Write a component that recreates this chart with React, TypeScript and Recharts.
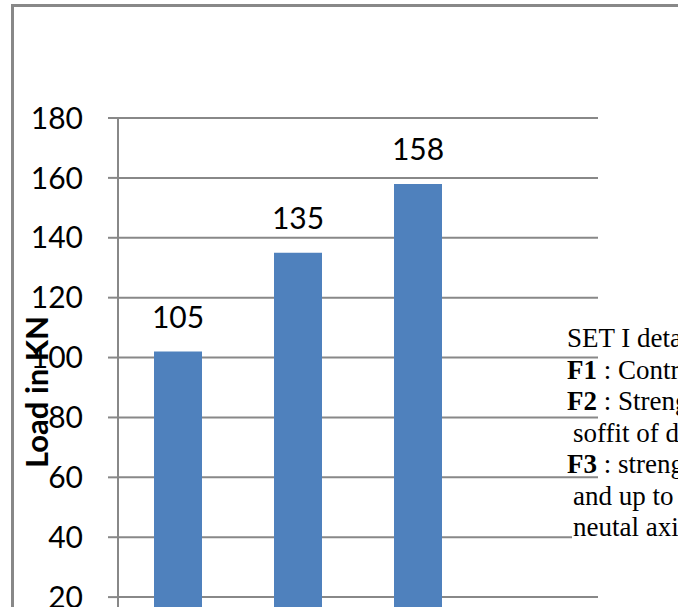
import React from 'react';
import { BarChart, Bar, XAxis, YAxis, CartesianGrid, LabelList } from 'recharts';

const categories = ['F1', 'F2', 'F3', ''];
const loads = [102, 135, 158, null];
const loadLabels = ['105', '135', '158', ''];
const yTicks = [0, 20, 40, 60, 80, 100, 120, 140, 160, 180];

// side note text box (clipped at the right edge like the source)
const noteLines = [
  { bold: '', rest: 'SET I details', indent: 0 },
  { bold: 'F1', rest: ' : Control', indent: 0 },
  { bold: 'F2', rest: ' : Strengthened at', indent: 0 },
  { bold: '', rest: 'soffit of deck', indent: 6 },
  { bold: 'F3', rest: ' : strengthened at', indent: 0 },
  { bold: '', rest: 'and up to  the', indent: 6 },
  { bold: '', rest: 'neutal axis', indent: 6 },
];

const data = categories.map((name, i) => ({ name, load: loads[i], label: loadLabels[i] }));

const GRID = '#888888';
const BAR = '#4F81BD';

const YLabel = () => (
  <text
    x={0}
    y={0}
    transform="translate(48, 392) rotate(-90)"
    textAnchor="middle"
    fontFamily="Lato"
    fontWeight="bold"
    fontSize={31}
    fill="#000"
  >
    Load in KN
  </text>
);

const App: React.FC = () => {
  return (
    <div
      style={{
        position: 'absolute',
        left: 0,
        top: 0,
        width: 678,
        height: 607,
        overflow: 'hidden',
        background: '#fff',
      }}
    >
      <div
        style={{
          position: 'absolute',
          left: 11,
          top: 4,
          width: 900,
          height: 900,
          borderLeft: `3px solid ${GRID}`,
          borderTop: `3px solid ${GRID}`,
          boxSizing: 'border-box',
        }}
      />
      <div style={{ position: 'absolute', left: 0, top: 0 }}>
        <BarChart
          width={700}
          height={700}
          data={data}
          margin={{ top: 118, right: 102, left: 0, bottom: 43 }}
          barSize={48}
        >
          <CartesianGrid vertical={false} stroke={GRID} strokeWidth={2} />
          <XAxis dataKey="name" hide />
          <YAxis
            width={118}
            domain={[0, 180]}
            ticks={yTicks}
            interval={0}
            tickSize={10}
            tickMargin={25}
            axisLine={{ stroke: GRID, strokeWidth: 2 }}
            tickLine={{ stroke: GRID, strokeWidth: 2 }}
            tick={{ fill: '#000', fontSize: 30, fontFamily: 'Lato' }}
            label={{ content: YLabel }}
          />
          <Bar dataKey="load" fill={BAR} isAnimationActive={false}>
            <LabelList
              dataKey="label"
              position="top"
              offset={24}
              fill="#000"
              fontSize={30}
              fontFamily="Lato"
            />
          </Bar>
        </BarChart>
      </div>
      <svg
        width={678}
        height={607}
        style={{ position: 'absolute', left: 0, top: 0 }}
      >
        <rect x={572} y={521} width={120} height={26} fill="#fff" />
        {noteLines.map((line, i) => (
          <text
            key={i}
            x={567 + line.indent}
            y={347 + i * 31.5}
            fontFamily="Liberation Serif"
            fontSize={27}
            fill="#000"
            xmlSpace="preserve"
          >
            {line.bold && <tspan fontWeight="bold">{line.bold}</tspan>}
            <tspan>{line.rest}</tspan>
          </text>
        ))}
      </svg>
    </div>
  );
};

export default App;
